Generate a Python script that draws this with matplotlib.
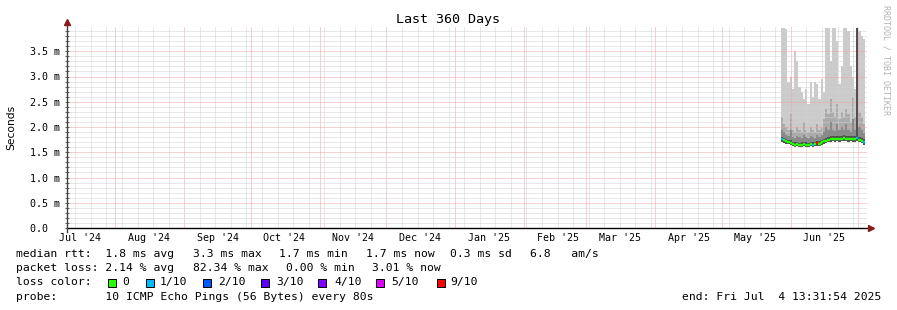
import matplotlib
matplotlib.use("Agg")
import matplotlib.pyplot as plt
import matplotlib.dates as mdates
from matplotlib.patches import Rectangle
import pandas as pd
import numpy as np

W, H = 897, 310
MONO = "DejaVu Sans Mono"

# ---------------- data ----------------
title = "Last 360 Days"
x_start = "2024-07-10 06:30"
x_end = "2025-07-05 06:30"
month_labels = ["Jul '24", "Aug '24", "Sep '24", "Oct '24", "Nov '24", "Dec '24",
                "Jan '25", "Feb '25", "Mar '25", "Apr '25", "May '25", "Jun '25"]
month_label_dates = ["2024-07-16", "2024-08-16", "2024-09-16", "2024-10-16", "2024-11-16",
                     "2024-12-16", "2025-01-16", "2025-02-16", "2025-03-16", "2025-04-16",
                     "2025-05-16", "2025-06-16"]
y_ticks = [0.0, 0.5, 1.0, 1.5, 2.0, 2.5, 3.0, 3.5]
y_tick_labels = ["0.0  ", "0.5 m", "1.0 m", "1.5 m", "2.0 m", "2.5 m", "3.0 m", "3.5 m"]

data_start = "2025-05-27 10:00"   # first daily bin
# per-day values in ms
smoke_max = [3.96, 3.96, 3.95, 2.90, 3.00, 2.75, 3.50, 3.30, 2.80, 2.70, 2.55, 2.75, 2.45,
             2.90, 2.60, 2.90, 2.85, 2.55, 2.95, 2.70, 3.96, 3.96, 3.30, 3.96, 3.96, 3.70,
             2.85, 3.20, 3.96, 3.96, 3.90, 3.20, 3.00, 2.75, 3.96, 3.90, 3.80, 3.75]
smoke_hi2 = [2.20, 2.05, 2.00, 1.95, 2.25, 1.95, 1.90, 2.00, 1.95, 1.90, 2.10, 1.95, 1.90,
             2.00, 1.95, 1.90, 2.05, 1.95, 2.00, 2.15, 2.35, 2.25, 2.55, 2.30, 2.20, 2.45,
             2.15, 2.30, 2.20, 2.35, 2.25, 2.10, 2.60, 2.20, 3.96, 2.30, 2.20, 2.05]
smoke_hi3 = [1.95, 1.90, 1.85, 1.82, 1.95, 1.80, 1.78, 1.82, 1.80, 1.78, 1.85, 1.80, 1.78,
             1.82, 1.80, 1.78, 1.85, 1.80, 1.85, 1.90, 2.00, 1.95, 2.10, 1.95, 1.92, 2.05,
             1.95, 2.00, 1.95, 2.05, 1.95, 1.90, 2.15, 1.95, 3.96, 2.00, 1.95, 1.88]
smoke_hi4 = [1.81, 1.79, 1.77, 1.75, 1.75, 1.71, 1.70, 1.71, 1.69, 1.70, 1.71, 1.70, 1.69,
             1.71, 1.70, 1.71, 1.73, 1.72, 1.75, 1.77, 1.79, 1.81, 1.82, 1.83, 1.82, 1.83,
             1.82, 1.83, 1.84, 1.83, 1.82, 1.83, 1.83, 1.82, 3.96, 1.81, 1.79, 1.76]
median_rtt = [1.76, 1.74, 1.72, 1.70, 1.69, 1.66, 1.65, 1.66, 1.64, 1.65, 1.66, 1.65, 1.64,
              1.66, 1.65, 1.66, 1.68, 1.67, 1.70, 1.72, 1.73, 1.75, 1.76, 1.77, 1.76, 1.77,
              1.76, 1.77, 1.78, 1.77, 1.76, 1.77, 1.76, 1.76, 1.78, 1.75, 1.73, 1.70]
smoke_min = [1.71, 1.69, 1.67, 1.66, 1.64, 1.62, 1.61, 1.62, 1.60, 1.61, 1.62, 1.61, 1.60,
             1.62, 1.61, 1.62, 1.63, 1.63, 1.65, 1.67, 1.68, 1.70, 1.71, 1.72, 1.71, 1.72,
             1.71, 1.72, 1.73, 1.72, 1.71, 1.72, 1.71, 1.71, 1.73, 1.70, 1.68, 1.65]
loss_level = [1, 0, 0, 0, 0, 0, 0, 0, 0, 0, 0, 0, 0, 0, 1, 0, 6, 0, 0, 0, 0, 0, 0, 0, 0,
              0, 0, 0, 0, 0, 0, 0, 0, 0, 1, 0, 0, 1]

loss_labels = ["0", "1/10", "2/10", "3/10", "4/10", "5/10", "9/10"]
loss_colors = ["#26ff00", "#00b8ff", "#0059ff", "#5e00ff", "#7e00ff", "#dd00ff", "#ff0000"]

legend_rtt = ["median rtt:  1.8 ms avg", "3.3 ms max", "1.7 ms min", "1.7 ms now",
              "0.3 ms sd", "6.8   am/s"]
legend_loss = ["packet loss: 2.14 % avg", "82.34 % max", "0.00 % min", "3.01 % now"]
probe_text = "probe:       10 ICMP Echo Pings (56 Bytes) every 80s"
end_text = "end: Fri Jul  4 13:31:54 2025"
watermark = "RRDTOOL / TOBI OETIKER"

# ---------------- figure ----------------
fig = plt.figure(figsize=(W / 100, H / 100), dpi=100)
fig.patch.set_facecolor("white")


def fx(x):
    return x / W


def fy(y):
    return 1 - y / H


ax = fig.add_axes([fx(67), fy(228), 800 / W, 202 / H])
ax.set_facecolor("white")

t0 = mdates.date2num(pd.Timestamp(x_start))
t1 = mdates.date2num(pd.Timestamp(x_end))
ax.set_xlim(t0, t1)
ax.set_ylim(0, 4.0)

# smoke layers
n = len(median_rtt)
edges = mdates.date2num(pd.date_range(data_start, periods=n + 1, freq="1D"))
ax.stairs(smoke_max, edges, baseline=smoke_min, fill=True, color="#cbcbcb", lw=0, zorder=1)
ax.stairs(smoke_hi2, edges, baseline=smoke_min, fill=True, color="#ababab", lw=0, zorder=2)
ax.stairs(smoke_hi3, edges, baseline=smoke_min, fill=True, color="#8a8a8a", lw=0, zorder=3)
ax.stairs(smoke_hi4, edges, baseline=smoke_min, fill=True, color="#505050", lw=0, zorder=4)

# median line coloured by loss
for i in range(n):
    c = loss_colors[loss_level[i]]
    ax.plot([edges[i], edges[i + 1]], [median_rtt[i], median_rtt[i]], color=c,
            lw=1.7, solid_capstyle="butt", zorder=6)
    if i + 1 < n and loss_level[i + 1] == loss_level[i]:
        ax.plot([edges[i + 1], edges[i + 1]], [median_rtt[i], median_rtt[i + 1]],
                color=c, lw=1.7, solid_capstyle="butt", zorder=6)

# grid
month_starts = mdates.date2num(pd.date_range("2024-08-01", "2025-07-01", freq="MS"))
weeks = mdates.date2num(pd.date_range("2024-07-14", "2025-07-05", freq="7D"))
ax.set_xticks(month_starts)
ax.set_xticks(weeks, minor=True)
ax.set_xticklabels([])
ax.set_yticks(y_ticks)
ax.set_yticklabels(y_tick_labels, fontfamily=MONO, fontsize=7.2)
ax.set_yticks(np.arange(0, 4.0, 0.1), minor=True)
ax.grid(which="minor", color="#d2d2d2", lw=0.72, ls=(0, (1, 1)), zorder=7)
ax.grid(which="major", color="#f0a4a4", lw=0.72, ls=(0, (1, 1)), zorder=8)
ax.set_axisbelow(False)
ax.tick_params(axis="x", which="both", length=0)
ax.tick_params(axis="y", which="both", direction="inout", length=3, width=0.6,
               color="#505050", pad=3.5)
for s in ax.spines.values():
    s.set_visible(False)

# axes lines and arrows
ax.plot([0, 1.004], [0, 0], transform=ax.transAxes, color="black", lw=1.0,
        clip_on=False, zorder=10)
ax.plot([0, 0], [-0.02, 1.012], transform=ax.transAxes, color="#404040", lw=1.0,
        clip_on=False, zorder=10)
ax.plot([1.0055], [0], transform=ax.transAxes, marker=">", ms=4.5, color="#8b1a1a",
        clip_on=False, zorder=11)
ax.plot([0], [1.018], transform=ax.transAxes, marker="^", ms=4.5, color="#8b1a1a",
        clip_on=False, zorder=11)

# month labels
for lab, d in zip(month_labels, month_label_dates):
    ax.text(mdates.date2num(pd.Timestamp(d)), -0.05, lab,
            transform=ax.get_xaxis_transform(), ha="center", va="center",
            fontfamily=MONO, fontsize=7.2)

# title, y label, watermark
fig.text(fx(448), fy(19), title, ha="center", va="center", fontfamily=MONO, fontsize=9.6)
fig.text(fx(11), fy(127), "Seconds", rotation=90, ha="center", va="center",
         fontfamily="DejaVu Sans", fontsize=7.7)
fig.text(fx(886), fy(60), watermark, rotation=270, ha="center", va="center",
         fontfamily=MONO, fontsize=6, color="#b4b4b4")

# legend
LS = 8.2
for txt, x in zip(legend_rtt, [16, 193.3, 279.3, 365.7, 450, 530]):
    fig.text(fx(x), fy(254), txt, ha="left", va="center", fontfamily=MONO, fontsize=LS)
for txt, x in zip(legend_loss, [16, 192.7, 286, 371.7]):
    fig.text(fx(x), fy(268.3), txt, ha="left", va="center", fontfamily=MONO, fontsize=LS)
fig.text(fx(16), fy(282.3), "loss color:", ha="left", va="center", fontfamily=MONO, fontsize=LS)
sq_x = [108.3, 145.7, 203.3, 260.7, 318.3, 376, 436.7]
lab_x = [122.7, 160, 218.3, 276, 334, 391.7, 450]
for c, lab, sx, lx in zip(loss_colors, loss_labels, sq_x, lab_x):
    fig.patches.append(Rectangle((fx(sx), fy(286.5)), 8 / W, 8 / H, transform=fig.transFigure,
                                 facecolor=c, edgecolor="black", lw=0.7))
    fig.text(fx(lx), fy(282.3), lab, ha="left", va="center", fontfamily=MONO, fontsize=LS)
fig.text(fx(16), fy(296.7), probe_text, ha="left", va="center", fontfamily=MONO, fontsize=LS)
fig.text(fx(881), fy(296.7), end_text, ha="right", va="center", fontfamily=MONO, fontsize=LS)

fig.savefig("out.png", dpi=100, facecolor="white")
